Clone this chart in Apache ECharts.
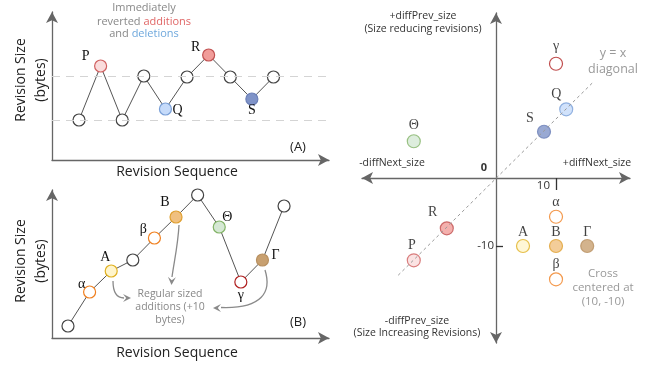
<!DOCTYPE html>
<html>
<head>
<meta charset="utf-8">
<script src="https://cdn.jsdelivr.net/npm/echarts@6/dist/echarts.min.js"></script>
<style>html,body{margin:0;padding:0;background:#fff;}#c{width:651px;height:365px;}</style>
</head>
<body>
<div id="c"></div>
<script>
// ---------- DATA ----------
// Panel A: revision sequence vs revision size
const seqA = [1, 2, 3, 4, 5, 6, 7, 8, 9, 10];
const sizeA = [40, 94, 40, 84, 51, 83, 105, 83, 61, 83];
const namesA = ['', 'P', '', '', 'Q', '', 'R', '', 'S', ''];
const levelsA = [84, 40];
// Panel B
const seqB = [1, 2, 3, 4, 5, 6, 7, 8, 9, 10, 11];
const sizeB = [12, 46, 67, 78, 100, 121, 143, 111, 56, 78, 132];
const namesB = ['', 'α', 'A', '', 'β', 'B', '', 'Θ', 'γ', 'Γ', ''];
// Panel C: diffNext_size (x) vs diffPrev_size (y)
const namesC = ['γ', 'Q', 'S', 'Θ', 'R', 'P', 'α', 'A', 'B', 'Γ', 'β'];
const diffNextC = [10, 11.7, 8, -13.7, -8.2, -13.7, 10, 4.5, 10, 15.2, 10];
const diffPrevC = [16.8, 10.1, 6.8, 5.4, -7.4, -12.1, -5.7, -10, -10, -10, -14.9];
const diagX = [-16.3, 16.2];
const diagY = [-14.3, 14.1];
const tickX = [10];
const tickY = [-10];

// ---------- STYLES ----------
const SANS = '"Open Sans", "Noto Sans", sans-serif';
const SERIF = '"Liberation Serif", "DejaVu Serif", serif';
const pointStyle = {
  '':  { fill: '#ffffff', stroke: '#444444' },
  'P': { fill: '#fadcdc', stroke: '#d06060' },
  'R': { fill: '#f19c99', stroke: '#c05050' },
  'Q': { fill: '#c6dbfa', stroke: '#7aa0d8' },
  'S': { fill: '#7f93c8', stroke: '#6c80b8' },
  'α': { fill: '#ffffff', stroke: '#f08020' },
  'β': { fill: '#ffffff', stroke: '#f08020' },
  'A': { fill: '#fff5cc', stroke: '#e0b020' },
  'B': { fill: '#f0c080', stroke: '#e0a030' },
  'Γ': { fill: '#c8a070', stroke: '#b89060' },
  'Θ': { fill: '#d5e8d4', stroke: '#82b366' },
  'γ': { fill: '#ffffff', stroke: '#b02020' }
};
const offA = { P: [-15, -10], Q: [12, 1], R: [-13, -8], S: [0, 11] };
const offB = { 'α': [-8, -8], A: [-6, -14], 'β': [-11, -9], B: [-11, -15], 'Θ': [8, -10], 'γ': [0, 13], 'Γ': [13, -5] };
const offC = { 'γ': [0, -17], Q: [-10, -15], S: [-14, -13], 'Θ': [0, -16], R: [-14, -16], P: [-2, -15],
               'α': [0, -14], A: [0, -14], B: [0, -14], 'Γ': [0, -14], 'β': [0, -15] };

function pt(x, y, name, offs) {
  const s = pointStyle[name] || pointStyle[''];
  return {
    value: [x, y], name: name,
    itemStyle: { color: s.fill, borderColor: s.stroke, borderWidth: 1.2 },
    label: {
      show: !!name, formatter: name, position: 'inside',
      offset: offs[name] || [0, 0],
      fontFamily: SERIF, fontSize: 14, color: '#111'
    }
  };
}

const axisGray = '#666';
function plainAxis(gi, min, max) {
  return {
    type: 'value', gridIndex: gi, min: min, max: max,
    axisLine: { show: true, onZero: false, symbol: ['none', 'arrow'], symbolSize: [9, 11],
                lineStyle: { color: axisGray, width: 1.3 } },
    axisTick: { show: false }, axisLabel: { show: false }, splitLine: { show: false }
  };
}

function arrowHead(tx, ty, ang, col) {
  const L = 8, W = 4;
  const bx = tx - L * Math.cos(ang), by = ty - L * Math.sin(ang);
  const px = -Math.sin(ang), py = Math.cos(ang);
  return { type: 'polygon', silent: true,
    shape: { points: [[tx, ty], [bx + W * px, by + W * py], [tx - 0.6 * L * Math.cos(ang), ty - 0.6 * L * Math.sin(ang)], [bx - W * px, by - W * py]] },
    style: { fill: col } };
}
function txt(x, y, text, size, color, extra) {
  return { type: 'text', x: x, y: y, silent: true,
    style: Object.assign({ text: text, fill: color, font: size + 'px ' + SANS,
      align: 'center', verticalAlign: 'middle' }, extra || {}) };
}

const arrowCol = '#8a8a8a';
const graphics = [
  // Panel A texts
  txt(144, 8, 'Immediately', 11, '#888'),
  { type: 'text', x: 144, y: 22, silent: true, style: { text: '{g|reverted }{r|additions}', align: 'center', verticalAlign: 'middle',
      rich: { g: { fill: '#888', font: '11px ' + SANS }, r: { fill: '#e06666', font: '11px ' + SANS } } } },
  { type: 'text', x: 144, y: 34, silent: true, style: { text: '{g|and }{b|deletions}', align: 'center', verticalAlign: 'middle',
      rich: { g: { fill: '#888', font: '11px ' + SANS }, b: { fill: '#6fa8dc', font: '11px ' + SANS } } } },
  txt(298, 147, '(A)', 13, '#222'),
  txt(177, 172, 'Revision Sequence', 14, '#222'),
  { type: 'text', x: 31, y: 80, rotation: Math.PI / 2, silent: true,
    style: { text: 'Revision Size\n(bytes)', fill: '#222', font: '14px ' + SANS, align: 'center', verticalAlign: 'middle', lineHeight: 20 } },
  // Panel B texts
  txt(298, 322, '(B)', 13, '#222'),
  txt(177, 353, 'Revision Sequence', 14, '#222'),
  { type: 'text', x: 31, y: 261, rotation: Math.PI / 2, silent: true,
    style: { text: 'Revision Size\n(bytes)', fill: '#222', font: '14px ' + SANS, align: 'center', verticalAlign: 'middle', lineHeight: 20 } },
  txt(170, 294, 'Regular sized', 10.5, '#888'),
  txt(170, 307, 'additions (+10', 10.5, '#888'),
  txt(170, 320, 'bytes)', 10.5, '#888'),
  { type: 'bezierCurve', silent: true, shape: { x1: 179, y1: 225, x2: 172, y2: 277, cpx1: 178, cpy1: 245, cpx2: 174, cpy2: 262 },
    style: { stroke: arrowCol, lineWidth: 1.3, fill: null } },
  arrowHead(171.5, 285, Math.PI / 2 + 0.05, arrowCol),
  { type: 'bezierCurve', silent: true, shape: { x1: 113, y1: 281, x2: 124, y2: 298, cpx1: 113, cpy1: 292, cpx2: 117, cpy2: 298 },
    style: { stroke: arrowCol, lineWidth: 1.3, fill: null } },
  arrowHead(131, 298, 0, arrowCol),
  { type: 'bezierCurve', silent: true, shape: { x1: 265, y1: 270, x2: 221, y2: 307.5, cpx1: 272, cpy1: 292, cpx2: 262, cpy2: 309 },
    style: { stroke: arrowCol, lineWidth: 1.3, fill: null } },
  arrowHead(213, 308, Math.PI, arrowCol),
  // Panel C texts
  txt(423, 16, '+diffPrev_size', 10.5, '#333'),
  txt(423, 29, '(Size reducing revisions)', 10.5, '#333'),
  txt(613, 53, 'y = x', 12.5, '#999'),
  txt(613, 69, 'diagonal', 12.5, '#999'),
  txt(392, 163, '-diffNext_size', 10.5, '#333'),
  txt(597, 163, '+diffNext_size', 10.5, '#333'),
  txt(484, 168, '0', 11, '#333', { font: 'bold 11px ' + SANS }),
  txt(417, 321, '-diffPrev_size', 10.5, '#333'),
  txt(417, 333, '(Size Increasing Revisions)', 10.5, '#333'),
  txt(603, 274, 'Cross', 11.5, '#999'),
  txt(603, 288, 'centered at', 11.5, '#999'),
  txt(603, 302, '(10, -10)', 11.5, '#999')
];

const option = {
  animation: false,
  backgroundColor: '#ffffff',
  grid: [
    { left: 52, right: 322, top: 12, bottom: 205 },
    { left: 52, right: 322, top: 190, bottom: 27 },
    { left: 362, right: 21, top: 13, bottom: 22 }
  ],
  xAxis: [
    plainAxis(0, -0.25, 12.57),
    plainAxis(1, 0.26, 13.08),
    { type: 'value', gridIndex: 2, min: -22.33, max: 22.33,
      axisLine: { show: true, onZero: true, symbol: ['arrow', 'arrow'], symbolSize: [9, 11], lineStyle: { color: axisGray, width: 1.3 } },
      axisTick: { show: true, customValues: tickX, length: 12, lineStyle: { color: '#333', width: 1.3 } },
      axisLabel: { show: false },
      splitLine: { show: false } }
  ],
  yAxis: [
    plainAxis(0, 0, 148),
    plainAxis(1, 0, 148),
    { type: 'value', gridIndex: 2, min: -24.26, max: 24.26,
      axisLine: { show: true, onZero: true, symbol: ['arrow', 'arrow'], symbolSize: [9, 11], lineStyle: { color: axisGray, width: 1.3 } },
      axisTick: { show: true, customValues: tickY, inside: true, length: 7, lineStyle: { color: '#333', width: 1.3 } },
      axisLabel: { show: false },
      splitLine: { show: false } }
  ],
  series: [
    { type: 'line', xAxisIndex: 0, yAxisIndex: 0, symbol: 'circle', symbolSize: 12, showAllSymbol: true,
      lineStyle: { color: '#555', width: 1 },
      data: seqA.map((x, i) => pt(x, sizeA[i], namesA[i], offA)),
      markLine: { silent: true, symbol: ['none', 'none'], label: { show: false },
        lineStyle: { type: [8, 6], color: '#d4d4d4', width: 1.2 },
        data: levelsA.map(v => ({ yAxis: v })) } },
    { type: 'line', xAxisIndex: 1, yAxisIndex: 1, symbol: 'circle', symbolSize: 12, showAllSymbol: true,
      lineStyle: { color: '#555', width: 1 },
      data: seqB.map((x, i) => pt(x, sizeB[i], namesB[i], offB)) },
    { type: 'line', xAxisIndex: 2, yAxisIndex: 2, symbol: 'none', silent: true,
      lineStyle: { color: '#999', width: 1, type: [3, 3] },
      data: diagX.map((x, i) => [x, diagY[i]]) },
    { type: 'scatter', xAxisIndex: 2, yAxisIndex: 2, symbol: 'circle', symbolSize: 13,
      data: namesC.map((n, i) => pt(diffNextC[i], diffPrevC[i], n, offC)) }
  ],
  graphic: graphics
};
const chart = echarts.init(document.getElementById('c'), null, { renderer: 'canvas' });
chart.setOption(option);

// tick labels of panel C placed at the axis ticks via the axis scales
const tickTexts = [];
tickX.forEach(v => {
  const p = chart.convertToPixel({ xAxisIndex: 2, yAxisIndex: 2 }, [v, 0]);
  tickTexts.push(txt(p[0] - 6, p[1] + 8, String(v), 11.5, '#333', { align: 'right' }));
});
tickY.forEach(v => {
  const p = chart.convertToPixel({ xAxisIndex: 2, yAxisIndex: 2 }, [0, v]);
  tickTexts.push(txt(p[0] - 2, p[1], String(v), 11.5, '#333', { align: 'right' }));
});
chart.setOption({ graphic: graphics.concat(tickTexts) });
</script>
</body>
</html>
